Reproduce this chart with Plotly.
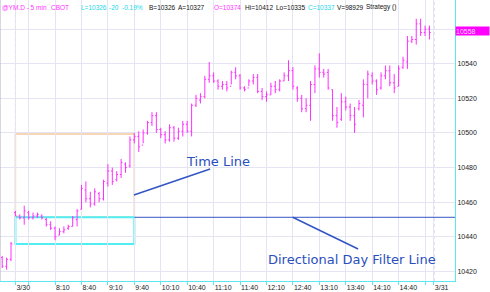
import plotly.graph_objects as go

# ---------------- data (5-min YM bars, 3/30 session; first three are prior session) ----------------
first_bar = -3  # bar index of first bar (index 0 = 7:25 on 3/30)
bar_open = [10428, 10423, 10427,
            10454, 10452, 10451, 10454, 10451, 10452, 10452, 10450, 10447, 10445,
            10441, 10443, 10445, 10446, 10450, 10456, 10467, 10462, 10459, 10465,
            10462, 10471, 10478, 10473, 10476, 10482, 10481, 10496, 10498, 10493,
            10500, 10506, 10510, 10502, 10499, 10496, 10503, 10497, 10501, 10505,
            10501, 10516, 10519, 10521, 10531, 10533, 10530, 10527, 10528, 10527,
            10535, 10533, 10526, 10526, 10530, 10532, 10524, 10521, 10522, 10527,
            10525, 10530, 10533, 10536, 10526, 10520, 10514, 10516, 10528, 10537,
            10535, 10535, 10525, 10510, 10508, 10518, 10515, 10510, 10514, 10516,
            10528, 10533, 10530, 10526, 10533, 10536, 10529, 10527, 10538, 10541,
            10553, 10554, 10563, 10558, 10560]
bar_high = [10429, 10428, 10437,
            10455, 10453, 10458, 10455, 10454, 10454, 10453, 10451, 10449, 10446,
            10445, 10446, 10447, 10452, 10456, 10470, 10472, 10466, 10468, 10466,
            10473, 10482, 10480, 10478, 10485, 10483, 10498, 10500, 10501, 10502,
            10507, 10512, 10512, 10503, 10501, 10505, 10504, 10503, 10507, 10507,
            10517, 10522, 10523, 10533, 10541, 10535, 10531, 10530, 10530, 10536,
            10538, 10534, 10527, 10531, 10534, 10534, 10526, 10524, 10529, 10530,
            10531, 10535, 10542, 10538, 10527, 10522, 10520, 10530, 10539, 10546,
            10537, 10537, 10525, 10515, 10523, 10521, 10517, 10515, 10519, 10531,
            10536, 10535, 10531, 10535, 10539, 10539, 10534, 10539, 10544, 10556,
            10556, 10566, 10566, 10562, 10562]
bar_low = [10422, 10421, 10426,
           10452, 10450, 10447, 10450, 10450, 10451, 10450, 10446, 10444, 10438,
           10441, 10442, 10444, 10446, 10446, 10456, 10460, 10457, 10458, 10460,
           10461, 10469, 10470, 10472, 10474, 10477, 10480, 10494, 10489, 10494,
           10499, 10504, 10500, 10497, 10494, 10495, 10495, 10496, 10498, 10500,
           10498, 10515, 10517, 10520, 10529, 10529, 10525, 10525, 10524, 10528,
           10531, 10525, 10524, 10527, 10528, 10523, 10519, 10518, 10522, 10523,
           10524, 10530, 10530, 10525, 10518, 10512, 10512, 10507, 10523, 10532,
           10532, 10525, 10507, 10503, 10507, 10513, 10507, 10500, 10513, 10509,
           10520, 10528, 10522, 10525, 10531, 10527, 10523, 10527, 10537, 10537,
           10552, 10551, 10556, 10556, 10554]
bar_close = [10423, 10427, 10436,
             10452, 10451, 10455, 10451, 10452, 10453, 10451, 10447, 10445, 10440,
             10443, 10444, 10446, 10451, 10455, 10468, 10462, 10459, 10466, 10462,
             10472, 10478, 10472, 10476, 10483, 10480, 10496, 10498, 10492, 10500,
             10506, 10510, 10502, 10499, 10496, 10503, 10497, 10501, 10505, 10501,
             10516, 10520, 10521, 10531, 10533, 10530, 10527, 10528, 10526, 10535,
             10533, 10526, 10525, 10530, 10532, 10524, 10521, 10522, 10527, 10525,
             10530, 10533, 10536, 10527, 10520, 10514, 10516, 10528, 10537, 10535,
             10534, 10526, 10510, 10506, 10518, 10515, 10510, 10505, 10517, 10528,
             10534, 10530, 10525, 10533, 10536, 10529, 10526, 10537, 10542, 10553,
             10554, 10563, 10558, 10560, 10558]

session_start = "7:25"
grid_times = ["7:40", "8:10", "8:40", "9:10", "9:40", "10:10", "10:40", "11:10", "11:40",
              "12:10", "12:40", "13:10", "13:40", "14:10", "14:40", "15:10"]
grid_labels = ["", "8:10", "8:40", "9:10", "9:40", "10:10", "10:40", "11:10", "11:40",
               "12:10", "12:40", "13:10", "13:40", "14:10", "14:40", ""]
date_times = ["7:25", "15:20"]
date_labels = ["3/30", "3/31"]

price_ticks = [10420, 10440, 10460, 10480, 10500, 10520, 10540, 10560]
price_labels = ["10420", "10440", "10460", "10480", "10500", "10520", "10540", ""]
last_price = 10558

open_range_high = 10451.3
open_range_low = 10435.9
morning_high = 10499.4
range_end_time = "9:40"

header = [("@YM.D - 5 min", "#ff30ff", 1), ("CBOT", "#ff30ff", 50),
          ("L=10326", "#20d8e8", 80), ("-20", "#20d8e8", 108), ("-0.19%", "#20d8e8", 121),
          ("B=10326", "#111111", 148), ("A=10327", "#111111", 177),
          ("O=10374", "#ff30ff", 213), ("Hi=10412", "#111111", 244),
          ("Lo=10335", "#111111", 275), ("C=10337", "#20d8e8", 307),
          ("V=98929", "#111111", 336), ("Strategy ()", "#111111", 365)]


def bar_index(t):
    h, m = map(int, t.split(":"))
    s_h, s_m = map(int, session_start.split(":"))
    return (h * 60 + m - (s_h * 60 + s_m)) / 5


x = list(range(first_bar, first_bar + len(bar_open)))

W, H = 490, 292
ML, MR, MT, MB = 0, 35, 0, 11
PW = W - ML - MR
PH = H - MT - MB

magenta = "#ff30ff"
cyan = "#5ae8f0"
grid = "#e4e4f2"
blue = "#3355c4"

fig = go.Figure()
fig.add_trace(go.Ohlc(
    x=x, open=bar_open, high=bar_high, low=bar_low, close=bar_close,
    increasing=dict(line=dict(color=magenta, width=1)),
    decreasing=dict(line=dict(color=magenta, width=1)),
    tickwidth=0.3, hoverinfo="skip", showlegend=False,
))

tickvals = [bar_index(t) for t in date_times[:1]] + [bar_index(t) for t in grid_times] + \
           [bar_index(t) for t in date_times[1:]]
ticktext = date_labels[:1] + grid_labels + date_labels[1:]

x_end = bar_index("15:20") + 4.8
fig.update_layout(
    width=W, height=H,
    margin=dict(l=ML, r=MR, t=MT, b=MB),
    paper_bgcolor="white", plot_bgcolor="white",
    showlegend=False,
    font=dict(family="Liberation Sans, Arial, sans-serif", size=7, color="#222222"),
    xaxis=dict(
        range=[-3.5, x_end], tickvals=tickvals, ticktext=ticktext,
        showgrid=True, gridcolor=grid, gridwidth=1, zeroline=False,
        ticks="outside", ticklen=3, tickcolor=cyan, tickwidth=1,
        showline=True, linecolor=cyan, linewidth=1,
        ticklabelposition="outside right", tickangle=0, automargin=False,
        tickfont=dict(size=7, color="#222222"),
        rangeslider=dict(visible=False), fixedrange=True,
    ),
    yaxis=dict(
        side="right", range=[10414.5, 10576.8],
        tickvals=price_ticks, ticktext=price_labels,
        showgrid=True, gridcolor=grid, gridwidth=1, zeroline=False,
        ticks="", showline=True, linecolor=cyan, linewidth=1, automargin=False,
        tickfont=dict(size=7, color="#222222"), fixedrange=True,
    ),
)

x_range_end = bar_index(range_end_time)
shapes = [
    dict(type="line", xref="paper", yref="paper", x0=0, x1=0, y0=0, y1=1,
         line=dict(color="#b0b0c0", width=1)),
    dict(type="line", xref="x", yref="paper", x0=bar_index(date_times[0]), x1=bar_index(date_times[0]),
         y0=0, y1=1, line=dict(color="#c0b8c8", width=1, dash="dot"), layer="below"),
    dict(type="line", xref="x", yref="paper", x0=bar_index(date_times[1]), x1=bar_index(date_times[1]),
         y0=0, y1=1, line=dict(color="#c0b8c8", width=1, dash="dot"), layer="below"),
    dict(type="rect", xref="x", yref="y", x0=0, x1=x_range_end, y0=open_range_high, y1=morning_high,
         line=dict(color="#f5c9a0", width=1.5), layer="below"),
    dict(type="rect", xref="x", yref="y", x0=0, x1=x_range_end, y0=open_range_low, y1=open_range_high,
         line=dict(color="#50eef0", width=2), layer="below"),
    dict(type="line", xref="x", yref="y", x0=x_range_end, x1=x_end, y0=open_range_high, y1=open_range_high,
         line=dict(color=blue, width=1)),
    dict(type="line", xref="x", yref="y", x0=26.9, y0=10464.2, x1=44.2, y1=10479.2,
         line=dict(color=blue, width=1.5)),
    dict(type="line", xref="x", yref="y", x0=62.95, y0=10451.3, x1=77.8, y1=10433.0,
         line=dict(color=blue, width=1.5)),
]
fig.update_layout(shapes=shapes)

annotations = [
    dict(text="Time Line", x=46.0, y=10483.5, xref="x", yref="y", showarrow=False,
         font=dict(family="DejaVu Sans", size=13, color="#2a4fbe")),
    dict(text="Directional Day Filter Line", x=76.4, y=10427.2, xref="x", yref="y", showarrow=False,
         font=dict(family="DejaVu Sans", size=13, color="#2a4fbe")),
    dict(text=str(last_price), x=1, y=last_price + 1, xref="paper", yref="y", xanchor="left",
         yanchor="middle", showarrow=False, bgcolor="#ff00ff", width=33, height=8, align="left",
         borderpad=0, font=dict(size=7, color="#ffd8ff")),
]
for txt, col, px in header:
    annotations.append(dict(text=txt, x=px / PW, y=1 - 7.5 / PH, xref="paper", yref="paper",
                            xanchor="left", yanchor="middle", showarrow=False, borderpad=0,
                            font=dict(family="Liberation Sans, Arial", size=6.5, color=col)))
fig.update_layout(annotations=annotations)

fig.write_html("out.html")
